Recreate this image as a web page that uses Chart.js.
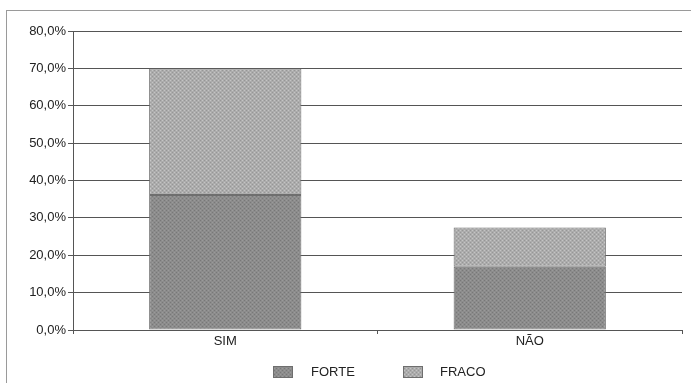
<!DOCTYPE html>
<html>
<head>
<meta charset="utf-8">
<script src="https://cdn.jsdelivr.net/npm/chart.js@4/dist/chart.umd.min.js"></script>
<style>
  html, body { margin: 0; padding: 0; background: #fff; }
  #wrap { position: relative; width: 691px; height: 383px; overflow: hidden; }
  #frame { position: absolute; left: 6px; top: 10px; width: 700px; height: 400px;
           border-left: 1px solid #9a9a9a; border-top: 1px solid #9a9a9a; }
  canvas { position: absolute; left: 0; top: 0; }
</style>
</head>
<body>
<div id="wrap">
  <div id="frame"></div>
  <canvas id="c" width="691" height="383"></canvas>
</div>
<script>
// Respostas por categoria e intensidade (percentual)
const categorias = ['SIM', 'NÃO'];
const forte = [36.1, 16.9];
const fraco = [33.9, 10.5];
const yTicks = [0, 10, 20, 30, 40, 50, 60, 70, 80];

// Stippled fill, like a printed halftone
function stipple(base, dark, light) {
  const p = document.createElement('canvas');
  p.width = 4; p.height = 4;
  const g = p.getContext('2d');
  g.fillStyle = base; g.fillRect(0, 0, 4, 4);
  g.fillStyle = dark;
  g.fillRect(0, 0, 1, 1); g.fillRect(2, 2, 1, 1);
  g.fillStyle = light;
  g.fillRect(2, 0, 1, 1); g.fillRect(0, 2, 1, 1);
  return g.createPattern(p, 'repeat');
}
const ctx = document.getElementById('c').getContext('2d');
const padForte = stipple('#8c8c8c', '#787878', '#9a9a9a');
const padFraco = stipple('#acacac', '#969696', '#c4c4c4');

const fmt = v => v.toFixed(1).replace('.', ',') + '%';
const FONT = { family: 'Liberation Sans', size: 13 };

// Legend drawn below the axis: swatch + label per series
const bottomLegend = {
  id: 'bottomLegend',
  afterDraw(chart) {
    const g = chart.ctx;
    const items = [{ x: 273, tx: 311 }, { x: 403, tx: 440 }];
    g.save();
    g.font = FONT.size + 'px ' + FONT.family;
    g.textBaseline = 'middle';
    chart.data.datasets.forEach((ds, i) => {
      const it = items[i];
      g.fillStyle = ds.backgroundColor;
      g.fillRect(it.x, 366, 20, 12);
      g.strokeStyle = '#6e6e6e';
      g.lineWidth = 1;
      g.strokeRect(it.x + 0.5, 366.5, 19, 11);
      g.fillStyle = '#222';
      g.fillText(ds.label, it.tx, 372);
    });
    g.restore();
  }
};

new Chart(ctx, {
  type: 'bar',
  data: {
    labels: categorias,
    datasets: [
      { label: 'FORTE', data: forte, backgroundColor: padForte, borderColor: '#6e6e6e', borderWidth: 1, borderSkipped: false },
      { label: 'FRACO', data: fraco, backgroundColor: padFraco, borderColor: '#6e6e6e', borderWidth: 1, borderSkipped: false }
    ]
  },
  plugins: [bottomLegend],
  options: {
    responsive: false,
    animation: false,
    devicePixelRatio: 1,
    layout: { padding: { left: 0, right: 9, top: 31, bottom: 33 } },
    datasets: { bar: { barPercentage: 0.5, categoryPercentage: 1.0 } },
    scales: {
      x: {
        stacked: true,
        offset: true,
        grid: { display: true, offset: true, drawOnChartArea: false, drawTicks: true, tickLength: 4, color: '#555' },
        border: { display: true, color: '#555', width: 1 },
        ticks: { color: '#222', font: FONT, padding: 0 },
        afterFit: s => { s.height = 20; }
      },
      y: {
        stacked: true,
        min: 0, max: 80,
        afterBuildTicks: s => { s.ticks = yTicks.map(v => ({ value: v })); },
        grid: { color: '#555', lineWidth: 1, drawTicks: true, tickLength: 5 },
        border: { display: true, color: '#555', width: 1 },
        ticks: { color: '#222', font: FONT, padding: 2, callback: v => fmt(v) },
        afterFit: s => { s.width = 73; }
      }
    },
    plugins: {
      legend: { display: false },
      tooltip: { enabled: false }
    }
  }
});
</script>
</body>
</html>
